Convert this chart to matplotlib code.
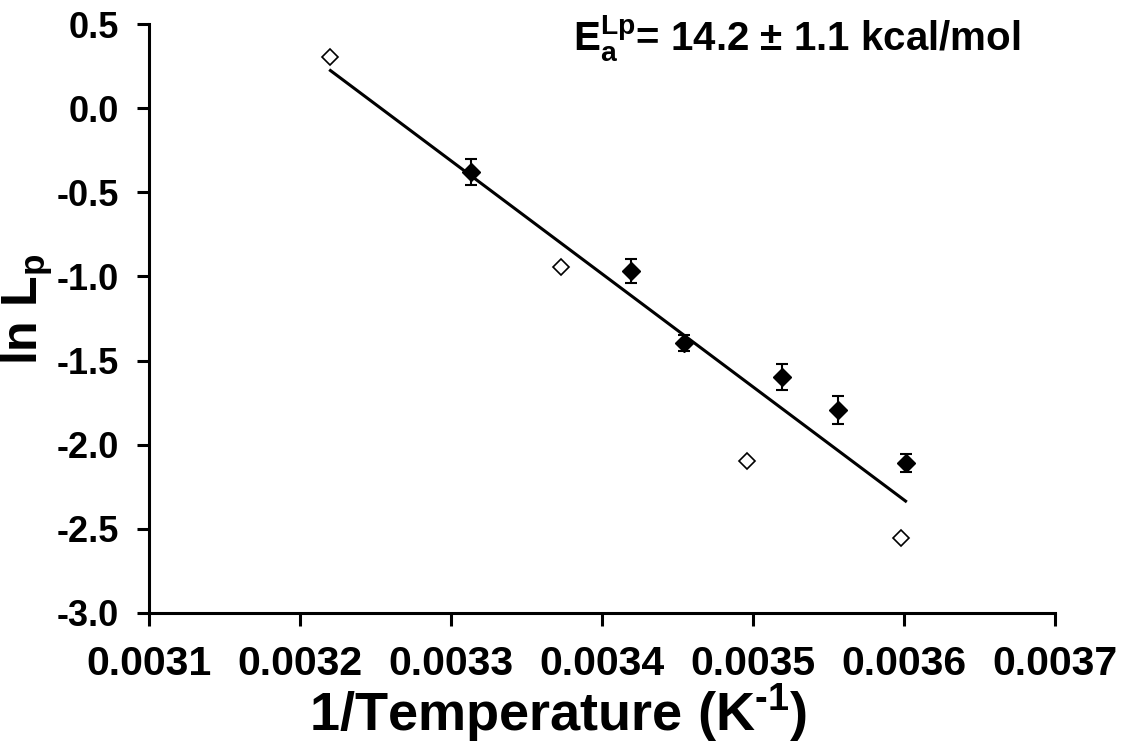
import numpy as np
import matplotlib
matplotlib.use('Agg')
import matplotlib.pyplot as plt
from matplotlib.ticker import FormatStrFormatter

plt.rcParams['font.family'] = ['Liberation Sans', 'DejaVu Sans']
plt.rcParams['font.weight'] = 'bold'
plt.rcParams['axes.labelweight'] = 'bold'
plt.rcParams['mathtext.fontset'] = 'custom'
plt.rcParams['mathtext.rm'] = 'Liberation Sans:bold'
plt.rcParams['mathtext.bf'] = 'Liberation Sans:bold'
plt.rcParams['mathtext.it'] = 'Liberation Sans:bold'
plt.rcParams['mathtext.default'] = 'bf'
plt.rcParams['axes.unicode_minus'] = False

# filled points (with error bars)
inv_t_filled = [0.003313, 0.003419, 0.003454, 0.003519, 0.003556, 0.003601]
ln_lp_filled = [-0.378, -0.968, -1.398, -1.600, -1.795, -2.108]
err_filled = [0.076, 0.074, 0.047, 0.077, 0.084, 0.054]

# open points
inv_t_open = [0.003220, 0.003373, 0.003496, 0.003598]
ln_lp_open = [0.304, -0.946, -2.096, -2.554]
err_open = [0.03, 0.025, 0.025, 0.03]
xerr_open = [0.000003, 0.000003, 0.000003, 0.000003]

annotation = r'$E_a^{Lp}$= 14.2 $\pm$ 1.1 kcal/mol'

fig = plt.figure(figsize=(11.25, 7.48), dpi=100)
ax = fig.add_axes([0.1327, 0.1805, 0.8051, 0.7874])

# linear fit through all points
x_all = np.array(inv_t_filled + inv_t_open)
y_all = np.array(ln_lp_filled + ln_lp_open)
k, b = np.polyfit(x_all, y_all, 1)
xf = np.array([x_all.min(), x_all.max()])
ax.plot(xf, k * xf + b, color='black', lw=2.2, zorder=2)

ax.errorbar(inv_t_filled, ln_lp_filled, yerr=err_filled, fmt='D', ms=9,
            mfc='black', mec='black', ecolor='black', elinewidth=1.5,
            capsize=4, capthick=1.5, zorder=3)
ax.errorbar(inv_t_open, ln_lp_open, yerr=err_open, xerr=xerr_open, fmt='D', ms=8.5,
            mfc='white', mec='black', mew=1.2, ecolor='black', elinewidth=1,
            capsize=2, capthick=1, zorder=3)

ax.set_xlim(0.0031, 0.0037)
ax.set_ylim(-3.0, 0.5)
ax.set_xticks(np.arange(0.0031, 0.00371, 0.0001))
ax.set_yticks(np.arange(-3.0, 0.51, 0.5))
ax.xaxis.set_major_formatter(FormatStrFormatter('%.4f'))
ax.yaxis.set_major_formatter(FormatStrFormatter('%.1f'))

for s in ['top', 'right']:
    ax.spines[s].set_visible(False)
for s in ['left', 'bottom']:
    ax.spines[s].set_linewidth(2.2)
ax.tick_params(axis='both', direction='out', length=9, width=2.2)
ax.tick_params(axis='x', labelsize=29.5, pad=14)
ax.tick_params(axis='y', labelsize=26, pad=13)

ax.set_xlabel(r'1/Temperature (K$^{\text{-}1}$)', fontsize=39)
ax.set_ylabel(r'ln L$_p$', fontsize=36)
ax.xaxis.set_label_coords(0.451, -0.118)
ax.yaxis.set_label_coords(-0.104, 0.515)

ax.text(0.468, 0.956, annotation, transform=ax.transAxes, fontsize=29,
        ha='left', va='baseline')

fig.savefig('out.png', dpi=100)
